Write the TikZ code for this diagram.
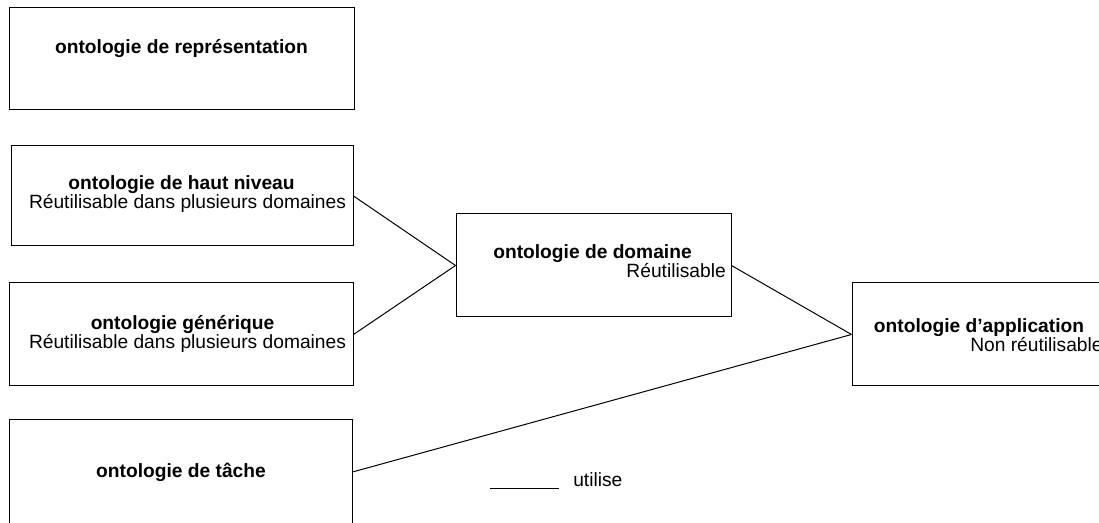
\documentclass[tikz,border=0pt]{standalone}
\usepackage{fontspec}
\setmainfont{Liberation Sans}
\newcommand{\taille}{\fontsize{14.4}{16}\selectfont}

\tikzset{
    boite/.style = {draw, rectangle, inner sep = 0pt, line width = 0.75pt},
    lien/.style = {line width = 0.75pt},
    titre/.style = {anchor = base, inner sep = 0pt, font = \taille\bfseries},
    sous/.style = {anchor = base, inner sep = 0pt, font = \taille}
}

\begin{document}
\begin{tikzpicture}[x = 0.75pt, y = -0.75pt]
    \clip (0, 0) rectangle (1099, 523);

    % les boites
    \node[boite, minimum width = 258.75pt, minimum height = 76.5pt] (rep) at (181.5, 59){};
    \node[boite, minimum width = 256.5pt, minimum height = 75pt] (haut) at (182, 196){};
    \node[boite, minimum width = 258pt, minimum height = 77.25pt] (gen) at (181, 334.5){};
    \node[boite, minimum width = 257.25pt, minimum height = 78pt] (tache) at (180.5, 472){};
    \node[boite, minimum width = 206.25pt, minimum height = 77.25pt] (dom) at (593.5, 265.5){};
    \node[boite, minimum width = 193.5pt, minimum height = 77.25pt] (app) at (981, 334.5){};

    % les textes
    \node[titre] (rep-t) at (181.5, 54){ontologie de représentation};
    \node[titre] (haut-t) at (181.5, 190){ontologie de haut niveau};
    \node[sous] (haut-s) at (187.5, 209){Réutilisable dans plusieurs domaines};
    \node[titre] (gen-t) at (182.5, 330){ontologie générique};
    \node[sous] (gen-s) at (187.5, 349){Réutilisable dans plusieurs domaines};
    \node[titre] (tache-t) at (181, 478){ontologie de tâche};
    \node[titre] (dom-t) at (592.5, 259){ontologie de domaine};
    \node[sous, anchor = base east] (dom-s) at (726, 278){Réutilisable};
    \node[titre] (app-t) at (979, 333){ontologie d’application};
    \node[sous, anchor = base west] (app-s) at (970, 352){Non réutilisable};

    % les liens
    \draw[lien] (haut.east) -- (dom.west);
    \draw[lien] (gen.east) -- (dom.west);
    \draw[lien] (dom.east) -- (app.west);
    \draw[lien] (tache.east) -- (app.west);

    % legende
    \coordinate (leg-a) at (490, 489);
    \coordinate (leg-b) at (559, 489);
    \draw[lien] (leg-a) -- (leg-b);
    \node[sous, anchor = base west] (leg) at (573, 486){utilise};
\end{tikzpicture}
\end{document}
